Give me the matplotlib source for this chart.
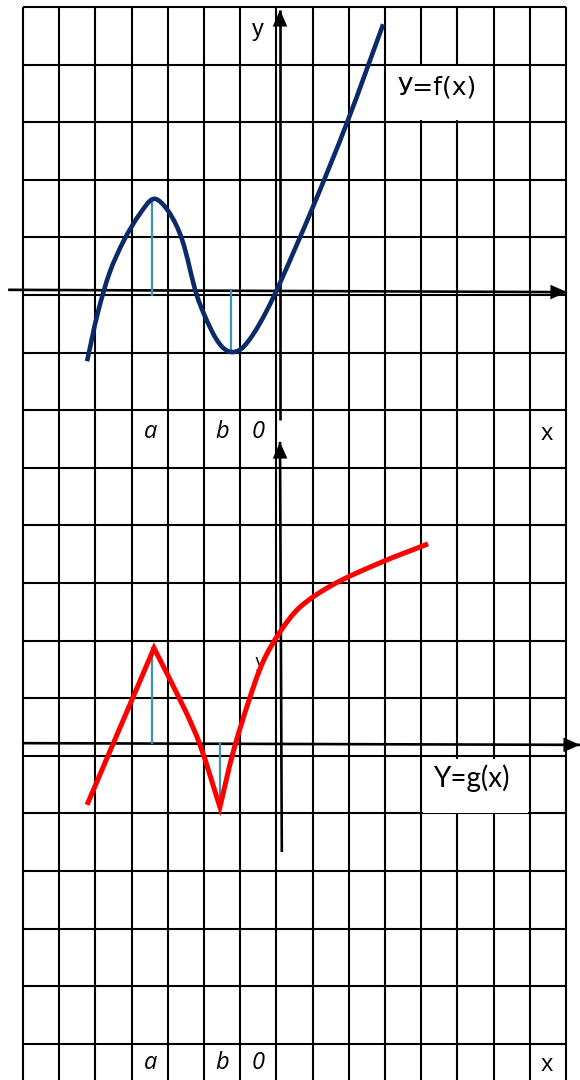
import numpy as np
import matplotlib
matplotlib.use("Agg")
import matplotlib.pyplot as plt
from matplotlib.path import Path
from matplotlib.patches import PathPatch, Rectangle

# ---- data (grid-cell units: column from left grid edge, row from top grid edge) ----
n_cols = 15
n_rows = 18

# upper graph y = f(x)
f_x = [1.77, 2.07, 2.40, 2.79, 3.23, 3.62, 4.01, 4.39, 4.81, 5.22, 5.50, 5.75,
       6.02, 6.35, 6.71, 7.10, 8.01, 8.95, 9.95]
f_y = [6.15, 5.30, 4.60, 4.05, 3.59, 3.33, 3.54, 4.03, 5.02, 5.63, 5.90, 5.99,
       5.94, 5.69, 5.30, 4.79, 3.47, 2.01, 0.30]

# lower graph y = g(x): straight rise, concave fall, smooth rise
g_left_x = [1.77, 3.62]
g_left_y = [13.85, 11.13]
g_mid_x = [3.62, 4.48, 4.89, 5.44]
g_mid_y = [11.13, 12.21, 12.81, 13.89]
g_right_x = [5.44, 5.80, 6.22, 6.63, 7.10, 7.65, 8.56, 9.86, 11.19]
g_right_y = [13.89, 12.95, 12.08, 11.37, 10.85, 10.42, 10.03, 9.65, 9.32]

# teal marker lines at a and b  (x, y_from, y_to)
f_marks_x = [3.56, 5.75]
f_marks_y0 = [3.33, 4.93]
f_marks_y1 = [5.00, 5.99]
g_marks_x = [3.56, 5.44]
g_marks_y0 = [11.13, 12.80]
g_marks_y1 = [12.78, 13.89]

# axes (start, end) in grid units
top_xaxis = ([-0.41, 15.03], [4.91, 4.95])
top_yaxis = ([7.10, 7.10], [7.17, 0.05])
bot_xaxis = ([-0.03, 15.39], [12.78, 12.81])
bot_yaxis = ([7.15, 7.10], [14.67, 7.55])

# labels
tick_labels = ["a", "b", "0"]
tick_label_x = [3.51, 5.50, 6.49]
top_label_row = 7.38
bot_label_row = 18.33

PX_X, PX_Y = 36.2, 57.6   # pixel size of one grid cell (for chord lengths)


def smooth_path(xs, ys, start_move=True):
    """Chord-length Catmull-Rom spline through the points, as cubic Bezier segments."""
    p = np.column_stack([xs, ys]).astype(float)
    s = np.array([PX_X, PX_Y])
    d = np.sqrt((((p[1:] - p[:-1]) * s) ** 2).sum(axis=1))
    t = np.concatenate([[0], np.cumsum(d)])
    n = len(p)
    m = np.zeros_like(p)
    for i in range(n):
        if i == 0:
            m[i] = (p[1] - p[0]) / (t[1] - t[0])
        elif i == n - 1:
            m[i] = (p[-1] - p[-2]) / (t[-1] - t[-2])
        else:
            m[i] = (p[i + 1] - p[i - 1]) / (t[i + 1] - t[i - 1])
    verts, codes = [], []
    if start_move:
        verts.append(p[0]); codes.append(Path.MOVETO)
    for i in range(n - 1):
        h = t[i + 1] - t[i]
        verts += [p[i] + m[i] * h / 3, p[i + 1] - m[i + 1] * h / 3, p[i + 1]]
        codes += [Path.CURVE4] * 3
    return verts, codes


fig = plt.figure(figsize=(5.8, 10.8), dpi=100)
ax = fig.add_axes([0, 0, 1, 1])
ax.set_xlim(-0.635, 15.387)
ax.set_ylim(18.628, -0.1215)
ax.axis("off")

# grid
for i in range(n_cols + 1):
    ax.plot([i, i], [0, n_rows + 1], color="black", lw=1.5, zorder=1, solid_capstyle="butt")
for j in range(n_rows + 1):
    ax.plot([0, n_cols], [j, j], color="black", lw=1.5, zorder=1, solid_capstyle="butt")

# white label boxes
ax.add_patch(Rectangle((10.04, 1.03), 2.92, 0.94, facecolor="white", edgecolor="none", zorder=2))
ax.add_patch(Rectangle((11.04, 13.05), 2.92, 0.94, facecolor="white", edgecolor="none", zorder=2))


def axis_arrow(xs, ys):
    ax.plot(xs, ys, color="black", lw=1.9, zorder=3, solid_capstyle="butt")
    ax.annotate("", xy=(xs[1], ys[1]), xytext=(xs[0], ys[0]),
                arrowprops=dict(arrowstyle="-|>,head_length=0.8,head_width=0.35",
                                color="black", lw=0, shrinkA=0, shrinkB=0,
                                mutation_scale=15),
                annotation_clip=False, zorder=3)


axis_arrow(*top_xaxis)
axis_arrow(*top_yaxis)
axis_arrow(*bot_xaxis)
axis_arrow(*bot_yaxis)

# teal markers
teal = "#3d93b3"
for x, a0, a1 in zip(f_marks_x, f_marks_y0, f_marks_y1):
    ax.plot([x, x], [a0, a1], color=teal, lw=1.6, zorder=4)
for x, a0, a1 in zip(g_marks_x, g_marks_y0, g_marks_y1):
    ax.plot([x, x], [a0, a1], color=teal, lw=1.6, zorder=4)

# small partially hidden label near lower y axis
ax.text(6.52, 11.37, "y", fontsize=12, family="DejaVu Sans", ha="center", va="center", zorder=4)

# f curve
v, c = smooth_path(f_x, f_y)
ax.add_patch(PathPatch(Path(v, c), facecolor="none", edgecolor="#0b2a6a", lw=3.3,
                       capstyle="butt", joinstyle="round", zorder=5))

# g curve
verts = [(g_left_x[0], g_left_y[0]), (g_left_x[1], g_left_y[1])]
codes = [Path.MOVETO, Path.LINETO]
v, c = smooth_path(g_mid_x, g_mid_y, start_move=False)
verts += v; codes += c
v, c = smooth_path(g_right_x, g_right_y, start_move=False)
verts += v; codes += c
ax.add_patch(PathPatch(Path(verts, codes), facecolor="none", edgecolor="#ff0000", lw=3.6,
                       capstyle="butt", joinstyle="miter", zorder=5))

# texts
lab_font = ["Open Sans", "DejaVu Sans"]
for row in (top_label_row, bot_label_row):
    for tl, x in zip(tick_labels, tick_label_x):
        ax.text(x, row, tl, fontsize=17, style="italic", family=lab_font,
                ha="center", va="center", zorder=6)
    ax.text(14.47, row + 0.03, "x", fontsize=17, family=lab_font, ha="center", va="center", zorder=6)

ax.text(6.49, 0.40, "y", fontsize=17, family="Liberation Sans", ha="center", va="center", zorder=6)
ax.text(11.45, 1.40, "У=f(x)", fontsize=18, family="DejaVu Sans", ha="center", va="center", zorder=6)
ax.text(12.38, 13.38, "Y=g(x)", fontsize=20, family=["Lato", "DejaVu Sans"], ha="center", va="center", zorder=6)

fig.savefig("out.png", dpi=100)
